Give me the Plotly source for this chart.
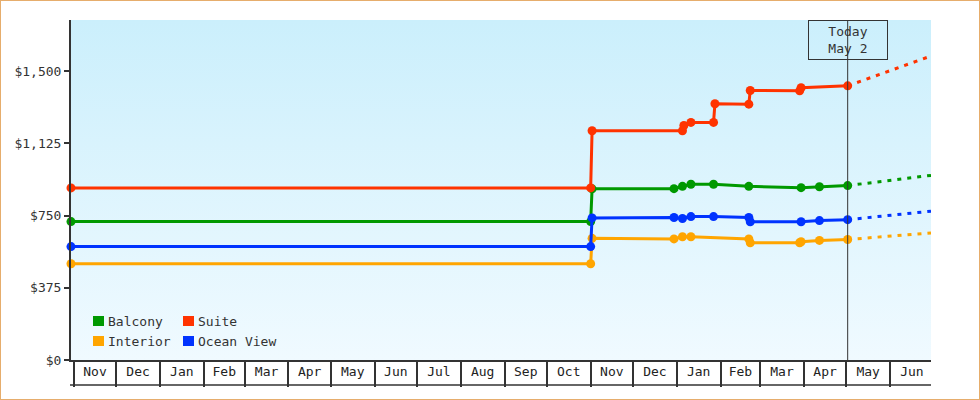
import plotly.graph_objects as go

# Price history per cabin type (dates and fares)
balcony_dates = ["2023-10-30", "2024-11-01", "2024-11-02", "2024-12-30", "2025-01-05",
                 "2025-01-11", "2025-01-27", "2025-02-21", "2025-03-30", "2025-04-12", "2025-05-02"]
balcony_prices = [719, 719, 889, 890, 902, 913, 913, 902, 895, 900, 906]

suite_dates = ["2023-10-30", "2024-11-01", "2024-11-02", "2025-01-05", "2025-01-06",
               "2025-01-11", "2025-01-27", "2025-01-28", "2025-02-21", "2025-02-22",
               "2025-03-29", "2025-03-30", "2025-05-02"]
suite_prices = [894, 894, 1191, 1191, 1218, 1234, 1234, 1331, 1329, 1400, 1398, 1414, 1424]

interior_dates = ["2023-10-30", "2024-11-01", "2024-11-02", "2024-12-30", "2025-01-05",
                  "2025-01-11", "2025-02-21", "2025-02-22", "2025-03-29", "2025-03-30",
                  "2025-04-12", "2025-05-02"]
interior_prices = [500, 500, 632, 629, 640, 640, 629, 609, 609, 614, 621, 626]

ocean_dates = ["2023-10-30", "2024-11-01", "2024-11-02", "2024-12-30", "2025-01-05",
               "2025-01-11", "2025-01-27", "2025-02-21", "2025-02-22", "2025-03-30",
               "2025-04-12", "2025-05-02"]
ocean_prices = [589, 589, 738, 740, 735, 745, 745, 740, 718, 718, 724, 729]

# Forecast from today to the end of the window
forecast_dates = ["2025-05-02", "2025-06-30"]
forecast = {
    "Balcony": [906, 959],
    "Suite": [1424, 1579],
    "Interior": [626, 660],
    "Ocean View": [729, 773],
}

today = "2025-05-02"
today_label = "Today<br>May 2"
x_range = ["2023-10-30", "2025-06-30"]
y_max = 1766
y_ticks = [0, 375, 750, 1125, 1500]

colors = {
    "Balcony": "#009900",
    "Suite": "#ff3300",
    "Interior": "#ffa500",
    "Ocean View": "#0033ff",
}

series = [
    ("Balcony", balcony_dates, balcony_prices),
    ("Suite", suite_dates, suite_prices),
    ("Interior", interior_dates, interior_prices),
    ("Ocean View", ocean_dates, ocean_prices),
]

FONT = "DejaVu Sans Mono"
# plot area in pixels (980x400 page)
L, R, T, B = 71, 49, 20, 40
PW, PH = 980 - L - R, 400 - T - B


def px_x(px):
    return (px - L) / PW


def px_y(py):
    return (400 - B - py) / PH


fig = go.Figure()

# plot area background: vertical gradient
fig.add_trace(go.Scatter(
    x=[x_range[0], x_range[1], x_range[1], x_range[0]],
    y=[0, 0, y_max, y_max],
    fill="toself",
    mode="none",
    fillgradient=dict(type="vertical", start=0, stop=y_max,
                      colorscale=[[0, "#f0faff"], [1, "#cbeffc"]]),
    hoverinfo="skip",
    showlegend=False,
))

for name, dates, prices in series:
    fig.add_trace(go.Scatter(
        x=dates, y=prices,
        mode="lines+markers",
        line=dict(color=colors[name], width=3),
        marker=dict(color=colors[name], size=9),
        name=name,
        cliponaxis=False,
        showlegend=False,
    ))
    fig.add_trace(go.Scatter(
        x=forecast_dates, y=forecast[name],
        mode="lines",
        line=dict(color=colors[name], width=3, dash="4px,6px"),
        hoverinfo="skip",
        showlegend=False,
    ))

# legend: two columns of square swatches + labels, bottom left of the plot
for i, (name, _, _) in enumerate(series):
    col, row = i % 2, i // 2
    sx = 93 + col * 90
    sy = 316 + row * 20
    fig.add_shape(type="rect", xref="paper", yref="paper",
                  x0=px_x(sx), x1=px_x(sx + 11), y0=px_y(sy + 10), y1=px_y(sy),
                  line=dict(width=0), fillcolor=colors[name])
    fig.add_annotation(x=px_x(sx + 13), y=px_y(sy + 5), xref="paper", yref="paper",
                       xanchor="left", yanchor="middle", text=name, showarrow=False,
                       font=dict(family=FONT, size=13, color="#333333"))

fig.add_shape(type="line", xref="x", yref="paper", x0=today, x1=today, y0=0, y1=1,
              line=dict(color="#333333", width=1))
fig.add_annotation(x=today, xref="x", y=1, yref="paper", yanchor="top",
                   text=today_label, showarrow=False, align="center",
                   width=76, height=36, borderpad=1,
                   bordercolor="#333333", borderwidth=1,
                   font=dict(family=FONT, size=13, color="#333333"))

# bottom edge of the month boxes
fig.add_shape(type="line", xref="paper", yref="paper", x0=px_x(70), x1=1, y0=px_y(385), y1=px_y(385),
              line=dict(color="#333333", width=1.5))
# outer border
fig.add_shape(type="rect", xref="paper", yref="paper",
              x0=px_x(0), x1=px_x(980), y0=px_y(400), y1=px_y(0),
              line=dict(color="#e6ad6c", width=2))

fig.update_layout(
    width=980, height=400,
    margin=dict(l=L, r=R, t=T, b=B),
    paper_bgcolor="white",
    plot_bgcolor="white",
    font=dict(family=FONT, size=13, color="#333333"),
    showlegend=False,
    hovermode="closest",
    xaxis=dict(
        range=x_range,
        type="date",
        showgrid=False,
        zeroline=False,
        showline=True, linecolor="#333333", linewidth=2,
        ticks="outside", ticklen=25, tickwidth=1.5, tickcolor="#333333",
        dtick="M1", tick0="2023-11-01",
        ticklabelmode="period", tickformat="%b",
        ticklabelstandoff=-27,
        tickfont=dict(family=FONT, size=13, color="#222222"),
    ),
    yaxis=dict(
        range=[0, y_max],
        showgrid=False,
        zeroline=False,
        showline=True, linecolor="#333333", linewidth=2,
        ticks="outside", ticklen=5, tickwidth=2, tickcolor="#333333",
        tickmode="array", tickvals=y_ticks,
        tickformat="$,d",
        tickfont=dict(family=FONT, size=13, color="#333333"),
    ),
)

fig.write_html("out.html", config={"displayModeBar": False},
               post_script="document.body.style.margin = '0';")
